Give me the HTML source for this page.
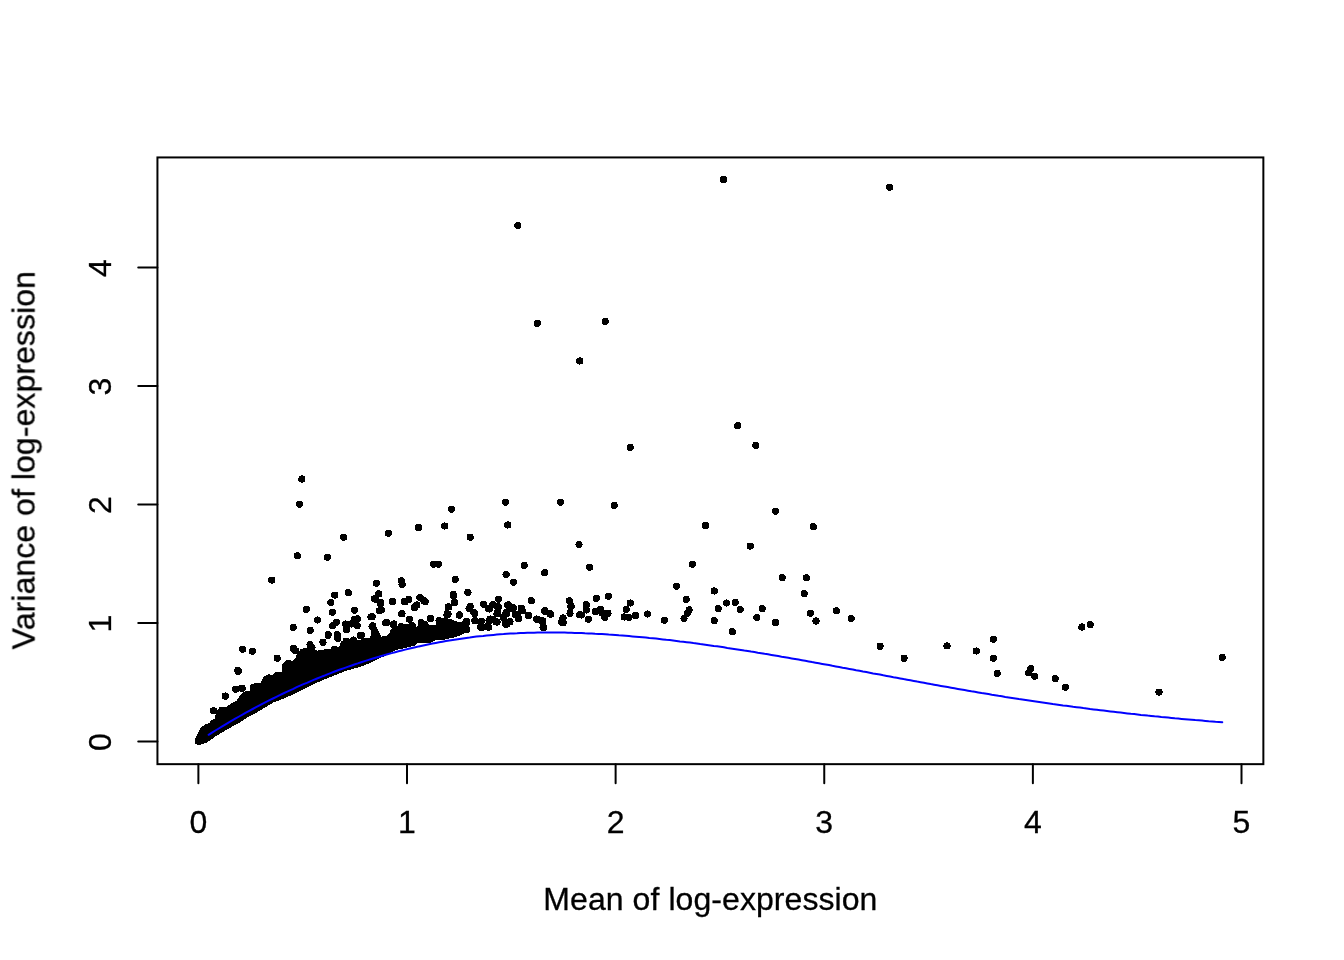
<!DOCTYPE html>
<html><head><meta charset="utf-8"><style>
html,body{margin:0;padding:0;background:#fff;width:1344px;height:960px;overflow:hidden}
svg{display:block}
text{font-family:"Liberation Sans",sans-serif;font-size:32px;fill:#000;stroke:#000;stroke-width:0.3px}
.t{letter-spacing:0.07px}
</style></head><body>
<svg width="1344" height="960" viewBox="0 0 1344 960">
<rect width="1344" height="960" fill="#fff"/>
<g opacity="0.999">
<rect x="157.44" y="157.44" width="1105.92" height="606.72" fill="none" stroke="#000" stroke-width="2"/>
<line x1="198.38" y1="764.16" x2="198.38" y2="783.36" stroke="#000" stroke-width="2" stroke-linecap="round"/>
<text x="198.38" y="833.28" text-anchor="middle">0</text>
<line x1="407.00" y1="764.16" x2="407.00" y2="783.36" stroke="#000" stroke-width="2" stroke-linecap="round"/>
<text x="407.00" y="833.28" text-anchor="middle">1</text>
<line x1="615.62" y1="764.16" x2="615.62" y2="783.36" stroke="#000" stroke-width="2" stroke-linecap="round"/>
<text x="615.62" y="833.28" text-anchor="middle">2</text>
<line x1="824.25" y1="764.16" x2="824.25" y2="783.36" stroke="#000" stroke-width="2" stroke-linecap="round"/>
<text x="824.25" y="833.28" text-anchor="middle">3</text>
<line x1="1032.88" y1="764.16" x2="1032.88" y2="783.36" stroke="#000" stroke-width="2" stroke-linecap="round"/>
<text x="1032.88" y="833.28" text-anchor="middle">4</text>
<line x1="1241.50" y1="764.16" x2="1241.50" y2="783.36" stroke="#000" stroke-width="2" stroke-linecap="round"/>
<text x="1241.50" y="833.28" text-anchor="middle">5</text>
<line x1="157.44" y1="741.56" x2="138.24" y2="741.56" stroke="#000" stroke-width="2" stroke-linecap="round"/>
<text transform="translate(111.36 742.16) rotate(-90)" text-anchor="middle">0</text>
<line x1="157.44" y1="623.04" x2="138.24" y2="623.04" stroke="#000" stroke-width="2" stroke-linecap="round"/>
<text transform="translate(111.36 623.64) rotate(-90)" text-anchor="middle">1</text>
<line x1="157.44" y1="504.52" x2="138.24" y2="504.52" stroke="#000" stroke-width="2" stroke-linecap="round"/>
<text transform="translate(111.36 505.12) rotate(-90)" text-anchor="middle">2</text>
<line x1="157.44" y1="386.00" x2="138.24" y2="386.00" stroke="#000" stroke-width="2" stroke-linecap="round"/>
<text transform="translate(111.36 386.60) rotate(-90)" text-anchor="middle">3</text>
<line x1="157.44" y1="267.48" x2="138.24" y2="267.48" stroke="#000" stroke-width="2" stroke-linecap="round"/>
<text transform="translate(111.36 268.08) rotate(-90)" text-anchor="middle">4</text>
<text class="t" x="710.4" y="910.08" text-anchor="middle">Mean of log-expression</text>
<text class="t" transform="translate(34.56 460.2) rotate(-90)" text-anchor="middle">Variance of log-expression</text>
<g fill="#000" shape-rendering="crispEdges"><path d="M195.0,739.2 L198.3,732.5 L200.0,728.3 L204.2,725.0 L210.0,722.5 L210.8,720.0 L215.0,719.2 L215.8,712.5 L220.0,706.7 L226.7,706.7 L231.7,703.3 L236.7,700.8 L240.0,695.0 L244.2,691.7 L250.0,690.8 L250.0,685.0 L255.0,683.3 L260.8,683.3 L263.3,676.7 L268.3,674.2 L272.5,675.0 L275.0,672.5 L281.7,671.7 L282.0,664.0 L286.0,661.0 L292.0,661.0 L296.0,658.0 L297.0,652.0 L304.0,648.0 L312.0,649.0 L318.0,651.0 L324.0,650.0 L331.0,648.5 L338.0,647.0 L342.0,643.0 L349.5,641.0 L358.7,640.0 L366.2,638.1 L370.0,639.6 L371.5,628.5 L374.5,623.3 L377.4,628.5 L381.2,636.7 L386.4,635.9 L389.3,633.7 L390.8,628.5 L394.6,629.2 L397.5,627.0 L401.2,624.0 L405.7,624.0 L410.2,623.3 L415.4,627.7 L420.6,622.5 L426.5,621.0 L429.5,624.8 L435.5,624.8 L437.0,618.1 L444.4,618.1 L450.4,618.8 L459.3,622.5 L466.0,619.6 L470.0,623.3 L466.7,632.2 L457.1,636.7 L444.4,639.6 L437.0,639.6 L429.5,643.4 L418.4,642.6 L414.6,645.6 L402.7,648.6 L395.3,650.1 L388.6,654.3 L378.0,659.0 L370.0,663.0 L359.7,667.0 L345.6,671.0 L331.5,676.5 L320.3,681.2 L308.1,686.8 L294.1,694.0 L281.7,699.3 L273.3,702.5 L265.0,707.5 L256.7,712.5 L248.3,716.7 L240.0,722.5 L231.7,726.8 L223.3,731.8 L215.0,736.8 L206.7,742.5 L202.5,744.3 L198.3,745.0 L195.0,743.6Z"/><circle cx="723.5" cy="179.6" r="3.6"/><circle cx="889.6" cy="187.3" r="3.6"/><circle cx="517.9" cy="225.4" r="3.6"/><circle cx="537.4" cy="323.4" r="3.6"/><circle cx="605.2" cy="321.4" r="3.6"/><circle cx="579.8" cy="361.0" r="3.6"/><circle cx="737.7" cy="425.7" r="3.6"/><circle cx="755.8" cy="445.3" r="3.6"/><circle cx="630.3" cy="447.5" r="3.6"/><circle cx="301.9" cy="479.0" r="3.6"/><circle cx="299.4" cy="504.1" r="3.6"/><circle cx="451.5" cy="509.1" r="3.6"/><circle cx="505.5" cy="502.2" r="3.6"/><circle cx="560.5" cy="502.2" r="3.6"/><circle cx="614.2" cy="505.3" r="3.6"/><circle cx="775.5" cy="511.2" r="3.6"/><circle cx="418.4" cy="527.5" r="3.6"/><circle cx="444.7" cy="526.0" r="3.6"/><circle cx="507.8" cy="525.0" r="3.6"/><circle cx="705.5" cy="525.5" r="3.6"/><circle cx="813.4" cy="526.6" r="3.6"/><circle cx="388.4" cy="533.3" r="3.6"/><circle cx="343.7" cy="537.2" r="3.6"/><circle cx="470.2" cy="537.2" r="3.6"/><circle cx="579.0" cy="544.4" r="3.6"/><circle cx="750.2" cy="546.1" r="3.6"/><circle cx="297.3" cy="555.8" r="3.6"/><circle cx="327.3" cy="557.1" r="3.6"/><circle cx="433.5" cy="564.1" r="3.6"/><circle cx="438.3" cy="564.1" r="3.6"/><circle cx="524.3" cy="565.5" r="3.6"/><circle cx="544.7" cy="572.7" r="3.6"/><circle cx="589.7" cy="567.1" r="3.6"/><circle cx="692.4" cy="564.2" r="3.6"/><circle cx="271.8" cy="580.1" r="3.6"/><circle cx="376.4" cy="583.3" r="3.6"/><circle cx="401.5" cy="580.7" r="3.6"/><circle cx="402.1" cy="584.5" r="3.6"/><circle cx="455.2" cy="579.4" r="3.6"/><circle cx="506.1" cy="574.5" r="3.6"/><circle cx="513.4" cy="582.1" r="3.6"/><circle cx="782.2" cy="577.6" r="3.6"/><circle cx="806.3" cy="577.8" r="3.6"/><circle cx="676.4" cy="586.1" r="3.6"/><circle cx="453.3" cy="594.5" r="3.6"/><circle cx="467.8" cy="592.3" r="3.6"/><circle cx="348.3" cy="592.7" r="3.6"/><circle cx="334.8" cy="595.1" r="3.6"/><circle cx="330.9" cy="602.4" r="3.6"/><circle cx="306.4" cy="609.4" r="3.6"/><circle cx="332.5" cy="612.3" r="3.6"/><circle cx="354.6" cy="610.1" r="3.6"/><circle cx="378.9" cy="593.9" r="3.6"/><circle cx="375.3" cy="599.2" r="3.6"/><circle cx="380.3" cy="603.8" r="3.6"/><circle cx="381.2" cy="609.6" r="3.6"/><circle cx="392.6" cy="601.4" r="3.6"/><circle cx="404.6" cy="601.5" r="3.6"/><circle cx="419.8" cy="597.5" r="3.6"/><circle cx="424.0" cy="600.8" r="3.6"/><circle cx="416.8" cy="605.0" r="3.6"/><circle cx="414.1" cy="607.6" r="3.6"/><circle cx="454.6" cy="602.5" r="3.6"/><circle cx="448.8" cy="607.0" r="3.6"/><circle cx="470.3" cy="606.6" r="3.6"/><circle cx="474.1" cy="612.6" r="3.6"/><circle cx="483.5" cy="604.1" r="3.6"/><circle cx="489.6" cy="609.0" r="3.6"/><circle cx="498.5" cy="599.1" r="3.6"/><circle cx="459.4" cy="614.9" r="3.6"/><circle cx="447.0" cy="614.8" r="3.6"/><circle cx="804.2" cy="593.8" r="3.6"/><circle cx="714.2" cy="591.0" r="3.6"/><circle cx="686.3" cy="599.4" r="3.6"/><circle cx="689.1" cy="609.9" r="3.6"/><circle cx="687.2" cy="613.5" r="3.6"/><circle cx="684.0" cy="618.4" r="3.6"/><circle cx="664.4" cy="620.3" r="3.6"/><circle cx="718.3" cy="608.6" r="3.6"/><circle cx="726.6" cy="603.0" r="3.6"/><circle cx="735.2" cy="602.3" r="3.6"/><circle cx="740.1" cy="609.6" r="3.6"/><circle cx="714.2" cy="620.8" r="3.6"/><circle cx="732.4" cy="631.7" r="3.6"/><circle cx="762.2" cy="608.8" r="3.6"/><circle cx="756.9" cy="617.4" r="3.6"/><circle cx="775.5" cy="622.5" r="3.6"/><circle cx="810.4" cy="613.3" r="3.6"/><circle cx="816.0" cy="621.0" r="3.6"/><circle cx="836.3" cy="610.9" r="3.6"/><circle cx="851.1" cy="618.6" r="3.6"/><circle cx="880.1" cy="646.2" r="3.6"/><circle cx="904.1" cy="658.2" r="3.6"/><circle cx="947.0" cy="645.9" r="3.6"/><circle cx="976.3" cy="651.0" r="3.6"/><circle cx="993.4" cy="639.3" r="3.6"/><circle cx="993.4" cy="658.2" r="3.6"/><circle cx="997.3" cy="673.5" r="3.6"/><circle cx="1081.9" cy="627.0" r="3.6"/><circle cx="1090.3" cy="624.6" r="3.6"/><circle cx="1030.9" cy="668.7" r="3.6"/><circle cx="1028.8" cy="672.9" r="3.6"/><circle cx="1034.8" cy="676.2" r="3.6"/><circle cx="1055.2" cy="678.6" r="3.6"/><circle cx="1065.4" cy="687.3" r="3.6"/><circle cx="1159.0" cy="692.1" r="3.6"/><circle cx="1222.2" cy="657.3" r="3.6"/><circle cx="531.3" cy="600.7" r="3.6"/><circle cx="569.5" cy="600.7" r="3.6"/><circle cx="596.3" cy="598.3" r="3.6"/><circle cx="608.3" cy="596.2" r="3.6"/><circle cx="630.3" cy="603.0" r="3.6"/><circle cx="626.2" cy="609.3" r="3.6"/><circle cx="647.5" cy="614.0" r="3.6"/><circle cx="635.5" cy="615.5" r="3.6"/><circle cx="624.2" cy="617.0" r="3.6"/><circle cx="507.8" cy="605.0" r="3.6"/><circle cx="513.3" cy="608.0" r="3.6"/><circle cx="521.7" cy="609.2" r="3.6"/><circle cx="506.7" cy="613.3" r="3.6"/><circle cx="518.3" cy="617.5" r="3.6"/><circle cx="503.3" cy="617.5" r="3.6"/><circle cx="506.7" cy="624.2" r="3.6"/><circle cx="510.0" cy="621.7" r="3.6"/><circle cx="528.7" cy="615.3" r="3.6"/><circle cx="537.0" cy="619.2" r="3.6"/><circle cx="542.5" cy="621.7" r="3.6"/><circle cx="543.0" cy="627.5" r="3.6"/><circle cx="544.7" cy="611.2" r="3.6"/><circle cx="550.3" cy="614.2" r="3.6"/><circle cx="563.0" cy="618.0" r="3.6"/><circle cx="562.0" cy="622.5" r="3.6"/><circle cx="570.8" cy="606.7" r="3.6"/><circle cx="570.0" cy="613.3" r="3.6"/><circle cx="586.3" cy="604.7" r="3.6"/><circle cx="586.3" cy="610.0" r="3.6"/><circle cx="581.3" cy="615.0" r="3.6"/><circle cx="588.3" cy="619.2" r="3.6"/><circle cx="595.3" cy="611.7" r="3.6"/><circle cx="600.8" cy="609.2" r="3.6"/><circle cx="602.5" cy="613.3" r="3.6"/><circle cx="604.7" cy="617.5" r="3.6"/><circle cx="608.0" cy="613.3" r="3.6"/><circle cx="242.6" cy="649.3" r="3.6"/><circle cx="252.5" cy="651.3" r="3.6"/><circle cx="237.8" cy="670.3" r="3.6"/><circle cx="277.2" cy="658.2" r="3.6"/><circle cx="293.1" cy="627.3" r="3.6"/><circle cx="310.1" cy="630.3" r="3.6"/><circle cx="317.4" cy="620.0" r="3.6"/><circle cx="328.1" cy="635.2" r="3.6"/><circle cx="323.0" cy="642.2" r="3.6"/><circle cx="293.5" cy="648.5" r="3.6"/><circle cx="225.3" cy="696.0" r="3.6"/><circle cx="213.7" cy="710.9" r="3.6"/><circle cx="236.0" cy="689.1" r="3.6"/><circle cx="241.8" cy="688.3" r="3.6"/><circle cx="371.0" cy="616.9" r="3.6"/><circle cx="354.5" cy="619.1" r="3.6"/><circle cx="357.2" cy="625.8" r="3.6"/><circle cx="346.8" cy="625.8" r="3.6"/><circle cx="332.6" cy="625.8" r="3.6"/><circle cx="336.4" cy="622.1" r="3.6"/><circle cx="328.2" cy="634.7" r="3.6"/><circle cx="337.1" cy="634.7" r="3.6"/><circle cx="337.9" cy="638.5" r="3.6"/><circle cx="343.8" cy="644.4" r="3.6"/><circle cx="353.5" cy="640.0" r="3.6"/><circle cx="360.2" cy="635.5" r="3.6"/><circle cx="372.1" cy="626.5" r="3.6"/><circle cx="385.5" cy="622.8" r="3.6"/><circle cx="393.7" cy="625.1" r="3.6"/><circle cx="401.8" cy="613.9" r="3.6"/><circle cx="401.1" cy="626.5" r="3.6"/><circle cx="409.3" cy="619.1" r="3.6"/><circle cx="412.3" cy="625.8" r="3.6"/><circle cx="421.2" cy="622.8" r="3.6"/><circle cx="430.1" cy="618.4" r="3.6"/><circle cx="439.0" cy="620.6" r="3.6"/><circle cx="448.0" cy="613.9" r="3.6"/><circle cx="466.6" cy="622.1" r="3.6"/><circle cx="474.8" cy="620.6" r="3.6"/><circle cx="480.7" cy="627.3" r="3.6"/><circle cx="487.4" cy="626.5" r="3.6"/><circle cx="492.6" cy="619.1" r="3.6"/><circle cx="497.8" cy="613.2" r="3.6"/><circle cx="506.0" cy="622.1" r="3.6"/><circle cx="517.9" cy="616.1" r="3.6"/><circle cx="512.0" cy="608.7" r="3.6"/><circle cx="430.7" cy="618.3" r="3.6"/><circle cx="474.8" cy="613.6" r="3.6"/><circle cx="489.0" cy="608.2" r="3.6"/><circle cx="492.6" cy="604.6" r="3.6"/><circle cx="497.4" cy="606.4" r="3.6"/><circle cx="508.1" cy="605.2" r="3.6"/><circle cx="511.7" cy="608.8" r="3.6"/><circle cx="521.2" cy="608.2" r="3.6"/><circle cx="497.4" cy="612.4" r="3.6"/><circle cx="505.7" cy="613.6" r="3.6"/><circle cx="515.2" cy="614.8" r="3.6"/><circle cx="518.8" cy="618.3" r="3.6"/><circle cx="528.3" cy="615.4" r="3.6"/><circle cx="474.8" cy="620.7" r="3.6"/><circle cx="481.9" cy="626.7" r="3.6"/><circle cx="489.0" cy="620.7" r="3.6"/><circle cx="496.2" cy="621.9" r="3.6"/><circle cx="505.7" cy="624.3" r="3.6"/><circle cx="537.9" cy="619.5" r="3.6"/><circle cx="545.0" cy="610.6" r="3.6"/><circle cx="549.8" cy="613.6" r="3.6"/><circle cx="542.6" cy="620.7" r="3.6"/><circle cx="543.8" cy="627.3" r="3.6"/><circle cx="571.2" cy="606.4" r="3.6"/><circle cx="570.0" cy="613.6" r="3.6"/><circle cx="562.9" cy="618.3" r="3.6"/><circle cx="561.7" cy="621.9" r="3.6"/><circle cx="579.5" cy="614.8" r="3.6"/><circle cx="285.2" cy="667.1" r="3.6"/><circle cx="288.2" cy="663.4" r="3.6"/><circle cx="299.4" cy="658.9" r="3.6"/><circle cx="295.7" cy="650.8" r="3.6"/><circle cx="303.1" cy="652.2" r="3.6"/><circle cx="312.0" cy="647.8" r="3.6"/><circle cx="319.5" cy="653.7" r="3.6"/><circle cx="326.9" cy="652.2" r="3.6"/><circle cx="334.3" cy="649.3" r="3.6"/><circle cx="343.3" cy="645.6" r="3.6"/><circle cx="346.2" cy="641.1" r="3.6"/><circle cx="353.7" cy="641.1" r="3.6"/><circle cx="361.1" cy="635.9" r="3.6"/><circle cx="367.1" cy="641.1" r="3.6"/><circle cx="358.1" cy="662.7" r="3.6"/><circle cx="368.6" cy="659.0" r="3.6"/><circle cx="628.8" cy="617.5" r="3.6"/><circle cx="379.3" cy="610.9" r="3.6"/><circle cx="345.6" cy="624.0" r="3.6"/><circle cx="351.2" cy="624.0" r="3.6"/><circle cx="357.3" cy="618.9" r="3.6"/><circle cx="346.5" cy="629.7" r="3.6"/><circle cx="310.0" cy="644.7" r="3.6"/><circle cx="372.8" cy="625.9" r="3.6"/><circle cx="361.5" cy="635.3" r="3.6"/><circle cx="353.1" cy="640.9" r="3.6"/><circle cx="344.7" cy="643.7" r="3.6"/><circle cx="335.3" cy="650.3" r="3.6"/><circle cx="286.6" cy="665.3" r="3.6"/><circle cx="374.5" cy="598.7" r="3.6"/><circle cx="380.4" cy="602.4" r="3.6"/><circle cx="381.2" cy="609.9" r="3.6"/><circle cx="392.3" cy="601.3" r="3.6"/><circle cx="405.0" cy="601.7" r="3.6"/><circle cx="408.7" cy="599.5" r="3.6"/><circle cx="420.6" cy="598.0" r="3.6"/><circle cx="425.1" cy="601.7" r="3.6"/><circle cx="414.6" cy="607.6" r="3.6"/><circle cx="453.3" cy="595.7" r="3.6"/><circle cx="454.1" cy="602.4" r="3.6"/><circle cx="448.1" cy="606.9" r="3.6"/><circle cx="447.4" cy="613.6" r="3.6"/><circle cx="459.3" cy="615.1" r="3.6"/><circle cx="469.0" cy="608.4" r="3.6"/><circle cx="372.2" cy="616.6" r="3.6"/><circle cx="402.0" cy="613.6" r="3.6"/><circle cx="386.7" cy="622.5" r="3.6"/><circle cx="393.8" cy="624.0" r="3.6"/><circle cx="430.3" cy="618.1" r="3.6"/><circle cx="468.0" cy="592.6" r="3.6"/><circle cx="470.2" cy="606.4" r="3.6"/><circle cx="473.9" cy="612.3" r="3.6"/><circle cx="483.6" cy="604.1" r="3.6"/><circle cx="488.1" cy="608.6" r="3.6"/><circle cx="493.3" cy="604.9" r="3.6"/><circle cx="498.5" cy="607.1" r="3.6"/><circle cx="508.2" cy="604.9" r="3.6"/><circle cx="513.4" cy="607.9" r="3.6"/><circle cx="521.5" cy="608.2" r="3.6"/><circle cx="522.3" cy="610.8" r="3.6"/><circle cx="506.7" cy="612.3" r="3.6"/><circle cx="497.0" cy="613.8" r="3.6"/><circle cx="517.1" cy="614.6" r="3.6"/><circle cx="518.6" cy="618.6" r="3.6"/><circle cx="528.2" cy="615.3" r="3.6"/><circle cx="544.6" cy="611.2" r="3.6"/><circle cx="550.6" cy="614.2" r="3.6"/><circle cx="536.4" cy="619.0" r="3.6"/><circle cx="541.6" cy="620.1" r="3.6"/><circle cx="543.1" cy="627.2" r="3.6"/><circle cx="562.5" cy="620.5" r="3.6"/><circle cx="563.2" cy="622.7" r="3.6"/><circle cx="475.4" cy="620.9" r="3.6"/><circle cx="481.4" cy="621.3" r="3.6"/><circle cx="490.3" cy="619.0" r="3.6"/><circle cx="481.4" cy="627.9" r="3.6"/><circle cx="488.8" cy="627.2" r="3.6"/><circle cx="497.0" cy="622.0" r="3.6"/><circle cx="506.7" cy="624.2" r="3.6"/><circle cx="509.6" cy="622.0" r="3.6"/><circle cx="466.5" cy="621.3" r="3.6"/><circle cx="466.5" cy="629.4" r="3.6"/><circle cx="213.3" cy="710.8" r="3.6"/><circle cx="225.4" cy="696.3" r="3.6"/><circle cx="235.8" cy="689.2" r="3.6"/><circle cx="242.1" cy="688.3" r="3.6"/><circle cx="238.3" cy="671.3" r="3.6"/></g>
<path d="M208.6,734.8 L212.0,732.6 L215.4,730.5 L218.8,728.5 L222.2,726.4 L225.6,724.4 L228.9,722.4 L232.3,720.4 L235.7,718.4 L239.1,716.5 L242.5,714.6 L245.9,712.7 L249.3,710.8 L252.7,709.0 L256.1,707.2 L259.5,705.4 L262.8,703.6 L266.2,701.9 L269.6,700.2 L273.0,698.5 L276.4,696.8 L279.8,695.2 L283.2,693.5 L286.6,691.9 L290.0,690.3 L293.4,688.8 L296.7,687.2 L300.1,685.7 L303.5,684.2 L306.9,682.8 L310.3,681.3 L313.7,679.9 L317.1,678.5 L320.5,677.1 L323.9,675.8 L327.3,674.4 L330.7,673.1 L334.0,671.8 L337.4,670.5 L340.8,669.3 L344.2,668.1 L347.6,666.9 L351.0,665.7 L354.4,664.5 L357.8,663.4 L361.2,662.2 L364.6,661.1 L367.9,660.1 L371.3,659.0 L374.7,658.0 L378.1,657.0 L381.5,656.0 L384.9,655.0 L388.3,654.0 L391.7,653.1 L395.1,652.2 L398.5,651.3 L401.8,650.5 L405.2,649.6 L408.6,648.8 L412.0,648.0 L415.4,647.2 L418.8,646.4 L422.2,645.7 L425.6,645.0 L429.0,644.3 L432.4,643.6 L435.8,642.9 L439.1,642.3 L442.5,641.7 L445.9,641.1 L449.3,640.5 L452.7,639.9 L456.1,639.4 L459.5,638.9 L462.9,638.4 L466.3,637.9 L469.7,637.5 L473.0,637.0 L476.4,636.6 L479.8,636.2 L483.2,635.9 L486.6,635.5 L490.0,635.2 L493.4,634.9 L496.8,634.6 L500.2,634.3 L503.6,634.1 L506.9,633.8 L510.3,633.6 L513.7,633.4 L517.1,633.3 L520.5,633.1 L523.9,633.0 L527.3,632.8 L530.7,632.7 L534.1,632.7 L537.5,632.6 L540.8,632.5 L544.2,632.5 L547.6,632.5 L551.0,632.5 L554.4,632.5 L557.8,632.5 L561.2,632.6 L564.6,632.6 L568.0,632.7 L571.4,632.8 L574.8,632.9 L578.1,633.0 L581.5,633.1 L584.9,633.3 L588.3,633.4 L591.7,633.6 L595.1,633.8 L598.5,633.9 L601.9,634.1 L605.3,634.3 L608.7,634.6 L612.0,634.8 L615.4,635.0 L618.8,635.3 L622.2,635.5 L625.6,635.8 L629.0,636.1 L632.4,636.4 L635.8,636.7 L639.2,637.0 L642.6,637.3 L645.9,637.6 L649.3,638.0 L652.7,638.3 L656.1,638.6 L659.5,639.0 L662.9,639.4 L666.3,639.8 L669.7,640.1 L673.1,640.5 L676.5,640.9 L679.9,641.4 L683.2,641.8 L686.6,642.2 L690.0,642.6 L693.4,643.1 L696.8,643.5 L700.2,644.0 L703.6,644.4 L707.0,644.9 L710.4,645.4 L713.8,645.9 L717.1,646.3 L720.5,646.8 L723.9,647.3 L727.3,647.9 L730.7,648.4 L734.1,648.9 L737.5,649.4 L740.9,649.9 L744.3,650.5 L747.7,651.0 L751.0,651.6 L754.4,652.1 L757.8,652.7 L761.2,653.2 L764.6,653.8 L768.0,654.3 L771.4,654.9 L774.8,655.5 L778.2,656.1 L781.6,656.7 L785.0,657.2 L788.3,657.8 L791.7,658.4 L795.1,659.0 L798.5,659.6 L801.9,660.2 L805.3,660.8 L808.7,661.4 L812.1,662.1 L815.5,662.7 L818.9,663.3 L822.2,663.9 L825.6,664.5 L829.0,665.1 L832.4,665.8 L835.8,666.4 L839.2,667.0 L842.6,667.7 L846.0,668.3 L849.4,668.9 L852.8,669.5 L856.1,670.2 L859.5,670.8 L862.9,671.5 L866.3,672.1 L869.7,672.7 L873.1,673.4 L876.5,674.0 L879.9,674.6 L883.3,675.3 L886.7,675.9 L890.1,676.5 L893.4,677.2 L896.8,677.8 L900.2,678.4 L903.6,679.1 L907.0,679.7 L910.4,680.3 L913.8,680.9 L917.2,681.6 L920.6,682.2 L924.0,682.8 L927.3,683.4 L930.7,684.1 L934.1,684.7 L937.5,685.3 L940.9,685.9 L944.3,686.5 L947.7,687.1 L951.1,687.7 L954.5,688.3 L957.9,688.9 L961.2,689.5 L964.6,690.1 L968.0,690.7 L971.4,691.3 L974.8,691.8 L978.2,692.4 L981.6,693.0 L985.0,693.5 L988.4,694.1 L991.8,694.7 L995.1,695.2 L998.5,695.8 L1001.9,696.3 L1005.3,696.9 L1008.7,697.4 L1012.1,697.9 L1015.5,698.4 L1018.9,699.0 L1022.3,699.5 L1025.7,700.0 L1029.1,700.5 L1032.4,701.0 L1035.8,701.5 L1039.2,702.0 L1042.6,702.5 L1046.0,703.0 L1049.4,703.5 L1052.8,704.0 L1056.2,704.4 L1059.6,704.9 L1063.0,705.4 L1066.3,705.8 L1069.7,706.3 L1073.1,706.8 L1076.5,707.2 L1079.9,707.6 L1083.3,708.1 L1086.7,708.5 L1090.1,709.0 L1093.5,709.4 L1096.9,709.8 L1100.2,710.2 L1103.6,710.6 L1107.0,711.0 L1110.4,711.4 L1113.8,711.8 L1117.2,712.2 L1120.6,712.6 L1124.0,713.0 L1127.4,713.4 L1130.8,713.8 L1134.2,714.1 L1137.5,714.5 L1140.9,714.9 L1144.3,715.2 L1147.7,715.6 L1151.1,715.9 L1154.5,716.3 L1157.9,716.6 L1161.3,717.0 L1164.7,717.3 L1168.1,717.6 L1171.4,717.9 L1174.8,718.3 L1178.2,718.6 L1181.6,718.9 L1185.0,719.2 L1188.4,719.5 L1191.8,719.8 L1195.2,720.1 L1198.6,720.3 L1202.0,720.6 L1205.3,720.9 L1208.7,721.2 L1212.1,721.4 L1215.5,721.7 L1218.9,721.9 L1222.3,722.2" fill="none" stroke="#0000ff" stroke-width="2" stroke-linecap="round" stroke-linejoin="round"/>
</g>
</svg>
</body></html>
